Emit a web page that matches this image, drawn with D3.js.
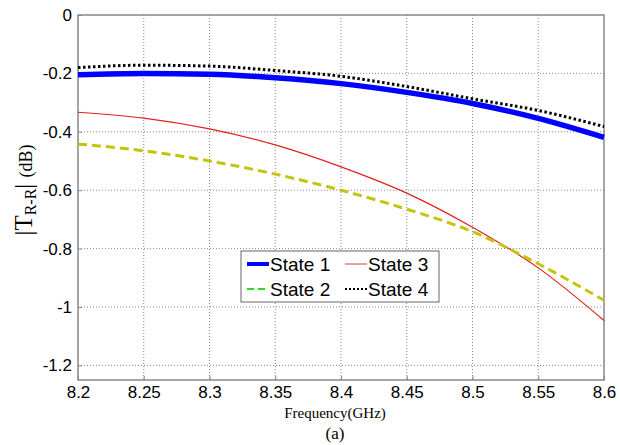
<!DOCTYPE html>
<html lang="en">
<head>
<meta charset="UTF-8">
<title>TR-R</title>
<script src="https://d3js.org/d3.v7.min.js"></script>
<style>
  body { margin: 0; background: #fff; }
  .tick text { font-family: "Liberation Sans", Arial, sans-serif; font-size: 17px; fill: #000; }
</style>
</head>
<body>
<script type="text/javascript">
    var freq = [8.2, 8.25, 8.3, 8.35, 8.4, 8.45, 8.5, 8.55, 8.6];
    var state1 = [-0.205, -0.200, -0.203, -0.215, -0.235, -0.265, -0.303, -0.354, -0.419];
    var state2 = [-0.442, -0.465, -0.500, -0.545, -0.600, -0.665, -0.742, -0.852, -0.977];
    var state3 = [-0.333, -0.353, -0.390, -0.445, -0.520, -0.610, -0.727, -0.866, -1.046];
    var state4 = [-0.180, -0.172, -0.175, -0.190, -0.210, -0.245, -0.287, -0.327, -0.382];
    var xTicks = [8.2, 8.25, 8.3, 8.35, 8.4, 8.45, 8.5, 8.55, 8.6];
    var yTicks = [0, -0.2, -0.4, -0.6, -0.8, -1, -1.2];

    var svgWidth = 620, svgHeight = 445;
    // plot box (note: "top" is reserved on window, so use pLeft etc.)
    var pLeft = 78, pRight = 604, pTop = 15, pBottom = 380;

    var svg = d3.select("body").append("svg")
        .attr("width", svgWidth)
        .attr("height", svgHeight);

    var x = d3.scaleLinear().domain([8.2, 8.6]).range([pLeft, pRight]);
    var y = d3.scaleLinear().domain([-1.25, 0]).range([pBottom, pTop]);

    // grid
    svg.append("g").selectAll("line").data(xTicks.slice(1, -1)).enter().append("line")
        .attr("x1", function (d) { return x(d); }).attr("x2", function (d) { return x(d); })
        .attr("y1", pTop).attr("y2", pBottom)
        .attr("stroke", "#888").attr("stroke-width", 1).attr("stroke-dasharray", "1,2");
    svg.append("g").selectAll("line").data(yTicks.slice(1)).enter().append("line")
        .attr("y1", function (d) { return y(d); }).attr("y2", function (d) { return y(d); })
        .attr("x1", pLeft).attr("x2", pRight)
        .attr("stroke", "#888").attr("stroke-width", 1).attr("stroke-dasharray", "1,2");

    // frame
    svg.append("rect")
        .attr("x", pLeft).attr("y", pTop)
        .attr("width", pRight - pLeft).attr("height", pBottom - pTop)
        .attr("fill", "none").attr("stroke", "#888").attr("stroke-width", 1.5);

    // inner tick marks (bottom / left)
    var xAxis = d3.axisBottom(x).tickValues(xTicks).tickSizeInner(-4).tickSizeOuter(0).tickPadding(6)
        .tickFormat(function (d) { return String(d); });
    svg.append("g")
        .attr("transform", "translate(0," + pBottom + ")")
        .call(xAxis)
        .call(function (g) {
            g.select(".domain").remove();
            g.selectAll(".tick line").attr("stroke", "#888");
        });

    var yAxis = d3.axisLeft(y).tickValues(yTicks).tickSizeInner(-4).tickSizeOuter(0).tickPadding(6)
        .tickFormat(function (d) { return String(d); });
    svg.append("g")
        .attr("transform", "translate(" + pLeft + ",0)")
        .call(yAxis)
        .call(function (g) {
            g.select(".domain").remove();
            g.selectAll(".tick line").attr("stroke", "#888");
        });

    var series = [
        { name: "State 1", values: state1, color: "#0000ff", width: 5.5, dash: null, legendColor: "#0000ff" },
        { name: "State 2", values: state2, color: "#c4c410", width: 3, dash: "9,5", legendColor: "#22dd22" },
        { name: "State 3", values: state3, color: "#e02020", width: 1.2, dash: null, legendColor: "#d04040" },
        { name: "State 4", values: state4, color: "#000000", width: 3, dash: "2.5,2.5", legendColor: "#000000" }
    ];

    var line = d3.line()
        .x(function (d, i) { return x(freq[i]); })
        .y(function (d) { return y(d); })
        .curve(d3.curveMonotoneX);

    var drawOrder = [series[2], series[1], series[0], series[3]];
    svg.append("g").selectAll("path").data(drawOrder).enter().append("path")
        .attr("d", function (s) { return line(s.values); })
        .attr("fill", "none")
        .attr("stroke", function (s) { return s.color; })
        .attr("stroke-width", function (s) { return s.width; })
        .attr("stroke-dasharray", function (s) { return s.dash; });

    // legend
    var lg = svg.append("g");
    lg.append("rect")
        .attr("x", 241).attr("y", 251).attr("width", 198).attr("height", 51)
        .attr("fill", "#fff").attr("stroke", "#666").attr("stroke-width", 1);
    var legendPos = [[247, 264], [247, 289], [345, 264], [345, 289]];
    series.forEach(function (s, i) {
        var p = legendPos[i];
        lg.append("line")
            .attr("x1", p[0]).attr("x2", p[0] + 22)
            .attr("y1", p[1]).attr("y2", p[1])
            .attr("stroke", s.legendColor)
            .attr("stroke-width", i === 0 ? 4 : (i === 2 ? 1 : 2))
            .attr("stroke-dasharray", i === 3 ? "2,2" : (i === 1 ? "7,4" : null));
        lg.append("text")
            .attr("x", p[0] + 23).attr("y", p[1] + 7)
            .attr("font-family", "Liberation Sans, Arial, sans-serif")
            .attr("font-size", "19px")
            .text(s.name);
    });

    // axis labels
    var yl = svg.append("text")
        .attr("transform", "translate(32,190) rotate(-90)")
        .attr("text-anchor", "middle")
        .attr("font-family", "Liberation Serif, Times New Roman, serif")
        .attr("font-size", "25px");
    yl.append("tspan").text("|T");
    yl.append("tspan").attr("font-size", "16px").attr("dy", 4).text("R-R");
    yl.append("tspan").attr("dy", -4).text("| ");
    yl.append("tspan").attr("font-size", "18px").text("(dB)");

    svg.append("text")
        .attr("x", 335).attr("y", 418)
        .attr("text-anchor", "middle")
        .attr("font-family", "Liberation Serif, Times New Roman, serif")
        .attr("font-size", "15px")
        .text("Frequency(GHz)");
    svg.append("text")
        .attr("x", 335).attr("y", 439)
        .attr("text-anchor", "middle")
        .attr("font-family", "Liberation Serif, Times New Roman, serif")
        .attr("font-size", "17px")
        .text("(a)");
</script>
</body>
</html>
